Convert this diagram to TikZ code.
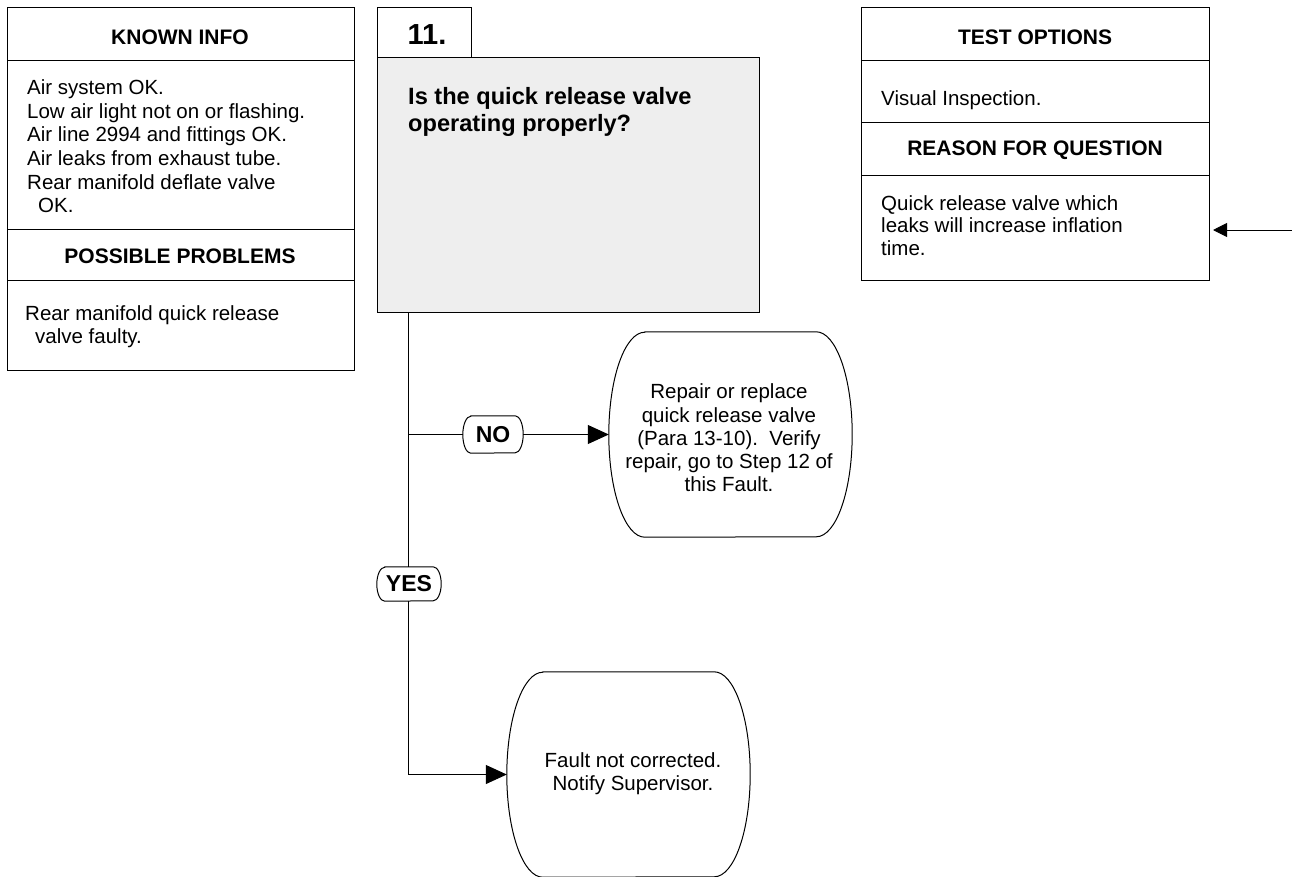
\documentclass[tikz,border=0pt]{standalone}
\usepackage{fontspec}
\setmainfont{Liberation Sans}
\usetikzlibrary{arrows.meta}
\definecolor{qfill}{HTML}{EEEEEE}

\begin{document}
\begin{tikzpicture}[x=1pt,y=-1pt,
  frame/.style={draw, line width=1pt, inner sep=0pt, anchor=north west},
  rule/.style={line width=1pt},
  head/.style={font=\fontsize{21}{25}\selectfont\bfseries, inner sep=0pt},
  body/.style={font=\fontsize{20.5}{23.7}\selectfont, align=left, inner sep=0pt, anchor=north west},
  link/.style={line width=1pt},
  tip/.style={-{Triangle[length=21pt,width=19pt]}},
  pill/.style={draw=none, font=\fontsize{23}{27}\selectfont\bfseries, inner sep=0pt},
  outline/.style={line width=1pt},
  capsule/.style={draw=none, inner sep=0pt, minimum width=243pt, minimum height=205pt},
  endtxt/.style={font=\fontsize{20.5}{23.3}\selectfont, align=center, inner sep=0pt},
]
\useasboundingbox (0,0) rectangle (1292,876);

% ---- KNOWN INFO / POSSIBLE PROBLEMS panel
\node[frame, minimum width=347pt, minimum height=363pt] (known) at (7,7) {};
\draw[rule] (known.west |- 0,60) -- (known.east |- 0,60);
\draw[rule] (known.west |- 0,229) -- (known.east |- 0,229);
\draw[rule] (known.west |- 0,280) -- (known.east |- 0,280);
\node[head] (knownhd) at (180,37) {KNOWN INFO};
\node[body] (knowntx) at (27,77.7) {\strut Air system OK.\\
  Low air light not on or flashing.\\
  Air line 2994 and fittings OK.\\
  Air leaks from exhaust tube.\\
  Rear manifold deflate valve\\
  \hspace*{11pt}OK.};
\node[head] (probhd) at (180,256) {POSSIBLE PROBLEMS};
\node[body] (probtx) at (25,303.4) {\strut Rear manifold quick release\\
  \hspace*{10pt}valve faulty.};

% ---- step 11 question
\node[frame, minimum width=94pt, minimum height=50pt] (tab) at (377,7) {};
\node[font=\fontsize{29}{34}\selectfont\bfseries, inner sep=0pt] (stepno) at (427,34.5) {11.};
\node[frame, fill=qfill, minimum width=382pt, minimum height=255pt] (quest) at (377,57) {};
\node[body, font=\fontsize{23.6}{27.7}\selectfont\bfseries] (questtx) at (408,84.6)
  {\strut Is the quick release valve\\operating properly?};

% ---- TEST OPTIONS / REASON FOR QUESTION panel
\node[frame, minimum width=348pt, minimum height=273pt] (test) at (861,7) {};
\draw[rule] (test.west |- 0,60) -- (test.east |- 0,60);
\draw[rule] (test.west |- 0,122) -- (test.east |- 0,122);
\draw[rule] (test.west |- 0,175) -- (test.east |- 0,175);
\node[head] (testhd) at (1035,37) {TEST OPTIONS};
\node[body] (testtx) at (881,88.4) {\strut Visual Inspection.};
\node[head] (reashd) at (1035,150) {REASON FOR QUESTION};
\node[body, font=\fontsize{20.5}{22.7}\selectfont] (reastx) at (881,194.1)
  {\strut Quick release valve which\\leaks will increase inflation\\time.};

% incoming connector from the right
\coordinate (inflow) at (1292,230);
\draw[link, -{Triangle[length=14pt,width=14pt]}, shorten >=3pt] (inflow) -- (test.east |- inflow);

% ---- outcome capsules
\node[capsule] (repair) at (730.5,434.5) {};
\node[endtxt] (repairtx) at (729,438) {Repair or replace\\quick release valve\\(Para 13-10).\ \ Verify\\repair, go to Step 12 of\\this Fault.};
\draw[outline] ([xshift=36pt]repair.north west) -- ([xshift=-36pt]repair.north east)
  arc[start angle=90, end angle=-90, x radius=36pt, y radius=102.5pt]
  -- ([xshift=36pt]repair.south west)
  arc[start angle=270, end angle=90, x radius=36pt, y radius=102.5pt] -- cycle;

\node[capsule] (fault) at (628.5,774.5) {};
\node[endtxt] (faulttx) at (633,774) {Fault not corrected.\\Notify Supervisor.};
\draw[outline] ([xshift=36pt]fault.north west) -- ([xshift=-36pt]fault.north east)
  arc[start angle=90, end angle=-90, x radius=36pt, y radius=102.5pt]
  -- ([xshift=36pt]fault.south west)
  arc[start angle=270, end angle=90, x radius=36pt, y radius=102.5pt] -- cycle;

% ---- decision labels with bowed ends
\node[pill, minimum width=60pt, minimum height=37pt] (no) at (493,434.5) {NO};
\draw[outline] ([xshift=8pt]no.north west) -- ([xshift=-8pt]no.north east)
  arc[start angle=90, end angle=-90, x radius=8pt, y radius=18.5pt]
  -- ([xshift=8pt]no.south west)
  arc[start angle=270, end angle=90, x radius=8pt, y radius=18.5pt] -- cycle;
\node[pill, minimum width=64pt, minimum height=34pt] (yes) at (409,584) {YES};
\draw[outline] ([xshift=8pt]yes.north west) -- ([xshift=-8pt]yes.north east)
  arc[start angle=90, end angle=-90, x radius=8pt, y radius=17pt]
  -- ([xshift=8pt]yes.south west)
  arc[start angle=270, end angle=90, x radius=8pt, y radius=17pt] -- cycle;

% ---- decision branches
\coordinate (trunk) at (408,312);
\coordinate (nojoin) at (408,434.5);
\draw[link] (trunk) -- (trunk |- yes.north);
\draw[link] (nojoin) -- (no);
\draw[link, tip] (no) -- (repair.west);
\draw[link, tip] (trunk |- yes.south) -- (trunk |- fault.west) -- (fault.west);
\end{tikzpicture}
\end{document}
